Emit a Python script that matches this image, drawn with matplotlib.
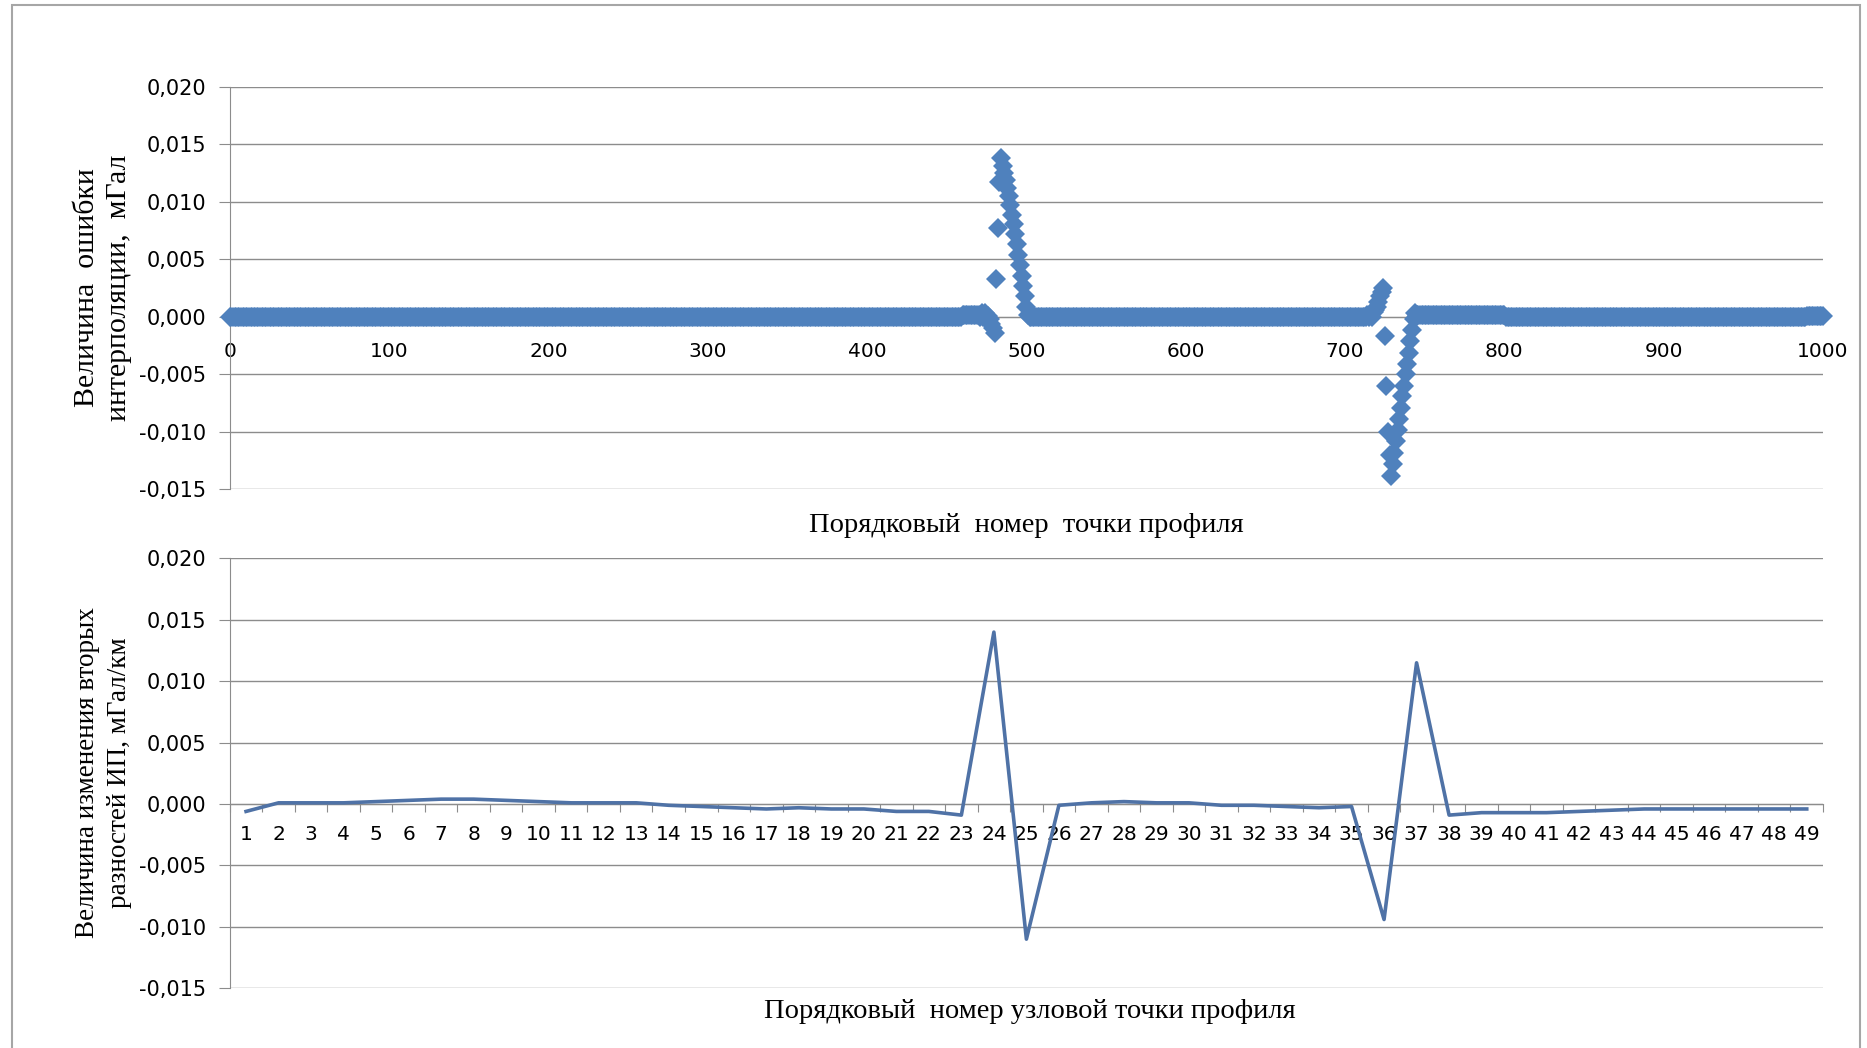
import numpy as np
import matplotlib
matplotlib.use('Agg')
import matplotlib.pyplot as plt
from matplotlib.patches import Rectangle
from matplotlib.ticker import FuncFormatter, MultipleLocator, FixedLocator

# --- top chart: interpolation error at every profile point (0..1000) ---
point_no = np.arange(0, 1001)

# flat stretches that sit a little above zero (start, end, level)
plateaus = [(460, 470, 0.0002), (745, 800, 0.0002), (990, 1000, 0.0001)]

spike1_x = [470, 472, 474, 476, 477, 478, 479, 480, 481, 482, 483, 484, 485, 486,
            487, 488, 489, 490, 491, 492, 493, 494, 495, 496, 497, 498, 499, 500, 501]
spike1_y = [0.0002, 0.0003, 0.0003, 0.0001, -0.0002, -0.0006, -0.0010, -0.0014,
            0.0033, 0.0077, 0.0117, 0.0138, 0.0131, 0.0125, 0.0119, 0.0112, 0.0105,
            0.0097, 0.0089, 0.0081, 0.0072, 0.0063, 0.0054, 0.0045, 0.0036, 0.0027,
            0.0018, 0.0009, 0.0002]

spike2_x = [714, 716, 718, 719, 720, 721, 722, 723, 724, 725, 726, 727, 728, 729,
            730, 731, 732, 733, 734, 735, 736, 737, 738, 739, 740, 741, 742, 743, 744]
spike2_y = [0.0002, 0.0003, 0.0004, 0.0006, 0.0009, 0.0013, 0.0018, 0.0022, 0.0025,
            -0.0017, -0.0060, -0.0100, -0.0120, -0.0138, -0.0128, -0.0118, -0.0108,
            -0.0098, -0.0089, -0.0079, -0.0069, -0.0060, -0.0050, -0.0041, -0.0031,
            -0.0021, -0.0011, -0.0002, 0.0003]

# --- bottom chart: change of second differences at node points 1..49 ---
node_no = list(range(1, 50))
second_diff = [-0.0006, 0.0001, 0.0001, 0.0001, 0.0002, 0.0003, 0.0004, 0.0004, 0.0003,
               0.0002, 0.0001, 0.0001, 0.0001, -0.0001, -0.0002, -0.0003, -0.0004,
               -0.0003, -0.0004, -0.0004, -0.0006, -0.0006, -0.0009, 0.0140, -0.0110,
               -0.0001, 0.0001, 0.0002, 0.0001, 0.0001, -0.0001, -0.0001, -0.0002,
               -0.0003, -0.0002, -0.0094, 0.0115, -0.0009, -0.0007, -0.0007, -0.0007,
               -0.0006, -0.0005, -0.0004, -0.0004, -0.0004, -0.0004, -0.0004, -0.0004]

err = np.zeros(len(point_no))
for a, b, lev in plateaus:
    err[a:b + 1] = lev
err[spike1_x] = spike1_y
err[spike2_x] = spike2_y

W, H = 1867, 1048
fig = plt.figure(figsize=(W / 100, H / 100), dpi=100)
fig.patches.append(Rectangle((12 / W, -0.05), 1848 / W, 1.05 - 5 / H, transform=fig.transFigure,
                             fill=False, edgecolor='#a6a6a6', linewidth=1.5))

GRID = '#8c8c8c'
BLUE = '#4f81bd'
LINE = '#4f72a6'
tick_font = ['DejaVu Sans']
serif = ['Liberation Serif', 'DejaVu Serif']
LBL = 20.5

comma_fmt = FuncFormatter(lambda v, p: ('%.3f' % v).replace('.', ',').replace('-0,000', '0,000'))


def style_axes(ax):
    ax.set_ylim(-0.015, 0.020)
    ax.yaxis.set_major_locator(MultipleLocator(0.005))
    ax.yaxis.set_major_formatter(comma_fmt)
    ax.grid(axis='y', color=GRID, linewidth=1.0)
    ax.set_axisbelow(True)
    for s in ['top', 'right']:
        ax.spines[s].set_visible(False)
    ax.spines['left'].set_color(GRID)
    ax.spines['bottom'].set_color(GRID)
    ax.spines['bottom'].set_position(('data', 0))
    ax.tick_params(axis='y', direction='out', length=8, color=GRID, labelsize=15, pad=9)
    for t in ax.get_yticklabels():
        t.set_family(tick_font)


# top scatter
ax1 = fig.add_axes([229.8 / W, 1 - 489.4 / H, (1823 - 229.8) / W, (489.4 - 86.9) / H])
style_axes(ax1)
ax1.plot(point_no, err, linestyle='none', marker='D', markersize=10.5, color=BLUE,
         markeredgewidth=0, clip_on=False, zorder=3)
ax1.set_xlim(0, 1000)
ax1.xaxis.set_major_locator(MultipleLocator(100))
ax1.tick_params(axis='x', direction='out', length=0, labelsize=14.5, pad=18)
for t in ax1.get_xticklabels():
    t.set_family(tick_font)
for t in ax1.get_yticklabels():
    t.set_family(tick_font)
fig.text(1026 / W, 1 - 525 / H, 'Порядковый  номер  точки профиля', ha='center', va='center',
         fontsize=LBL, family=serif)
fig.text(87 / W, 1 - 288 / H, 'Величина  ошибки', rotation=90, ha='center', va='center',
         fontsize=21.5, family=serif)
fig.text(119 / W, 1 - 288 / H, 'интерполяции,  мГал', rotation=90, ha='center', va='center',
         fontsize=21.5, family=serif)

# bottom line
ax2 = fig.add_axes([229.8 / W, 1 - 988.3 / H, (1823 - 229.8) / W, (988.3 - 558.4) / H])
style_axes(ax2)
ax2.plot(node_no, second_diff, color=LINE, linewidth=2.6, zorder=3)
ax2.set_xlim(0.5, 49.5)
ax2.xaxis.set_major_locator(FixedLocator(np.arange(0.5, 50, 1)))
ax2.xaxis.set_major_formatter(FuncFormatter(lambda v, p: ''))
ax2.xaxis.set_minor_locator(FixedLocator(node_no))
ax2.xaxis.set_minor_formatter(FuncFormatter(lambda v, p: '%d' % v))
ax2.tick_params(axis='x', which='major', direction='out', length=6, color=GRID)
ax2.tick_params(axis='x', which='minor', length=0, labelsize=14.5, pad=15)
for t in ax2.xaxis.get_minorticklabels():
    t.set_family(['Liberation Sans Narrow', 'DejaVu Sans'])
for t in ax2.get_yticklabels():
    t.set_family(tick_font)
fig.text(1030 / W, 1 - 1012 / H, 'Порядковый  номер узловой точки профиля', ha='center',
         va='center', fontsize=LBL, family=serif)
fig.text(87 / W, 1 - 773 / H, 'Величина изменения вторых', rotation=90, ha='center',
         va='center', fontsize=19.5, family=serif)
fig.text(119 / W, 1 - 773 / H, 'разностей ИП, мГал/км', rotation=90, ha='center',
         va='center', fontsize=19.5, family=serif)

fig.savefig('out.png', dpi=100)
